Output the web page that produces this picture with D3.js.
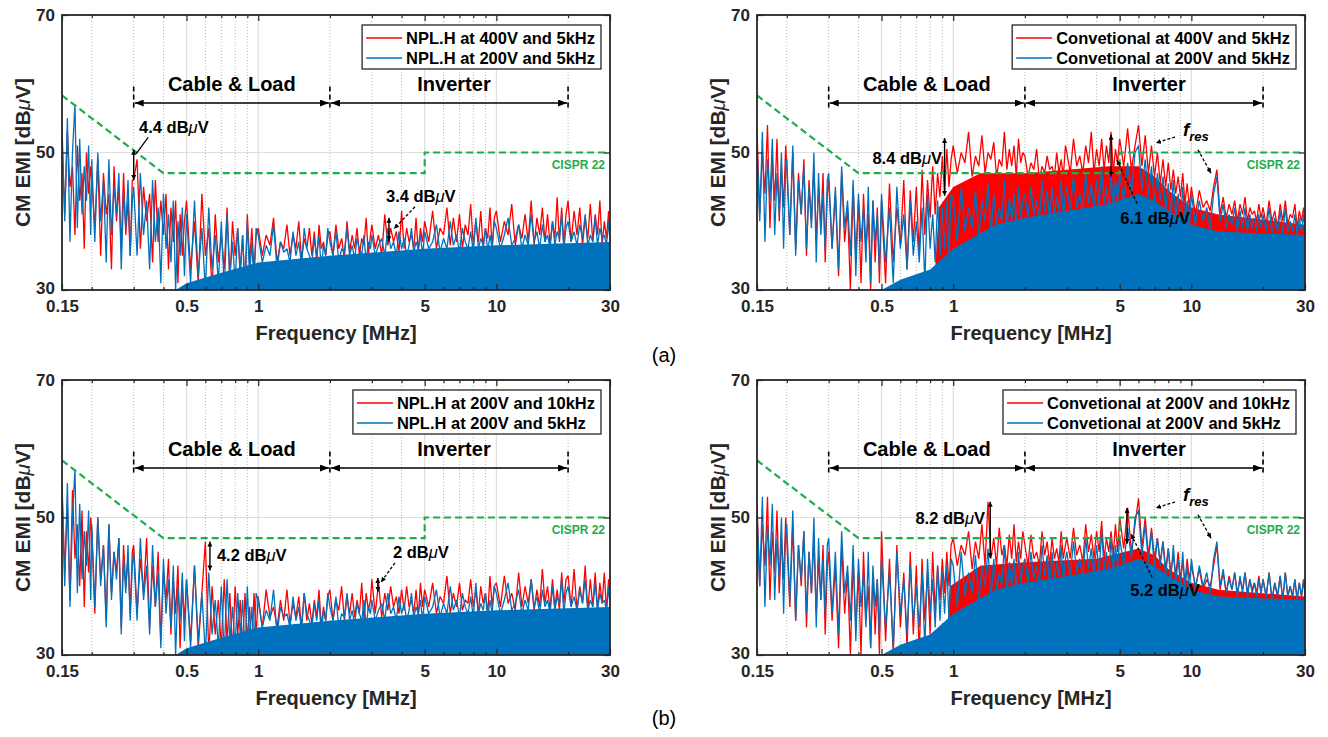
<!DOCTYPE html>
<html>
<head>
<meta charset="utf-8">
<script src="https://cdn.jsdelivr.net/npm/d3@7"></script>
<style>
  body { margin: 0; background: #fff; }
  svg text { font-family: Arial, "Liberation Sans", Helvetica, sans-serif; }
</style>
</head>
<body>
<svg id="fig" width="1328" height="737"></svg>
<script>
// ---------------------------------------------------------------
// Spectrum analyser sweep points (MHz), grouped by sweep segment
// ---------------------------------------------------------------
const freqRows = [
  [0.150,0.154,0.158,0.162,0.166,0.170,0.174,0.178,0.182,0.186,0.190,0.194,0.198],
  [0.200,0.206,0.212,0.218,0.224,0.230,0.236,0.242,0.248,0.254,0.260,0.266,0.272,0.278,0.284,0.290,0.296],
  [0.30,0.31,0.32,0.33,0.34,0.35,0.36,0.37,0.38,0.39,0.40,0.41,0.42,0.43,0.44,0.45,0.46,0.47,0.48,0.49],
  [0.50,0.52,0.54,0.56,0.58,0.60,0.62,0.64,0.66,0.68,0.70,0.72,0.74,0.76,0.78,0.80,0.82,0.84,0.86,0.88,0.90,0.92,0.94,0.96,0.98],
  [1.00,1.04,1.08,1.12,1.16,1.20,1.24,1.28,1.32,1.36,1.40,1.44,1.48,1.52,1.56,1.60,1.64,1.68,1.72,1.76,1.80,1.84,1.88,1.92,1.96],
  [2.00,2.06,2.12,2.18,2.24,2.30,2.36,2.42,2.48,2.54,2.60,2.66,2.72,2.78,2.84,2.90,2.96],
  [3.0,3.1,3.2,3.3,3.4,3.5,3.6,3.7,3.8,3.9,4.0,4.1,4.2,4.3,4.4,4.5,4.6,4.7,4.8,4.9],
  [5.0,5.2,5.4,5.6,5.8,6.0,6.2,6.4,6.6,6.8,7.0,7.2,7.4,7.6,7.8,8.0,8.2,8.4,8.6,8.8,9.0,9.2,9.4,9.6,9.8],
  [10.0,10.4,10.8,11.2,11.6,12.0,12.4,12.8,13.2,13.6,14.0,14.4,14.8,15.2,15.6,16.0,16.4,16.8,17.2,17.6,18.0,18.4,18.8,19.2,19.6],
  [20.0,20.6,21.2,21.8,22.4,23.0,23.6,24.2,24.8,25.4,26.0,26.6,27.2,27.8,28.4,29.0,29.6,30.0]
];

// ---------------------------------------------------------------
// CM EMI spectra (dBuV), one row per sweep segment
// ---------------------------------------------------------------
const nplh400v5k = [
  [52,41,53,45,48,38,51,43,47,36,50,44,48],
  [46,39,49,35,47,41,44,33,48,40,45,36,47,38,43,35,46],
  [46,49,36,45,40,44,34,46,37,43,38,44,33,42,37,43,31,41,35,40],
  [43,33,40,31,44,35,39,30,41,34,38,33,42,31,40,35,39,32,38,30,41,34,39,33,38],
  [39,35,38,36.5,40.5,34,37,36,39.5,35,38,36,40,34.5,37.5,36,39,35,38.5,34,39.5,36,37,35,38],
  [38.5,35,39.5,36,37.5,34.5,40,35.5,38,36,39,35,37.5,36.5,40.5,35,38],
  [39.5,36,38,35,41,36.5,39,37,38.5,35.5,41.5,36,39,37,38,36,40.5,35.5,39,37],
  [40,37,41.5,36,39,38,42,36.5,40.5,37,41,36,39.5,38,42.5,36.5,40,37,41.5,36,39,37.5,42,36,40.5],
  [41.5,37,40,38,42.5,36.5,39.5,37.5,41,37,43,36.5,40.5,38,42,37,41,36.5,40,37.5,43.5,37,42,36.5,41],
  [43,37,41.5,38,42,36.5,40.5,37.5,42.5,37,41,38,43,36.5,40,37.5,41.5,38]
];
const nplh200v5k = [
  [54,40,55,37,50,57,39,52,41,48,43,51,38],
  [49,37,50,40,46,34,49,38,45,41,47,33,44,39,46,35,43],
  [45,35,47,38,43,33,46,37,42,31,44,36,41,34,43,30,40,35,42,32],
  [41,31,43,32,39,30,42,33,38,31,40,30,41,32,37,31,39,33,38,30,40,32,37,31,39],
  [38,34,36.5,35,39.5,33,37,35.5,36,34,38.5,35,37,33.5,39,36,35,34,37.5,35,38,33,36.5,35,39],
  [37,35,38.5,34,36,35.5,39,35,36.5,34.5,37.5,36,35,38,34,37,36],
  [38,35,36.5,37.5,35,39,36,37,35,38.5,36,37.5,35,36.5,39,35.5,37,36,38,35],
  [38.5,36,37,39.5,35.5,37.5,36,40,36.5,38,35.5,39,37,36,38.5,35.5,40.5,36,37.5,36.5,39,35.5,38,36,40],
  [39,36,38,40.5,36.5,37.5,39.5,36,38,36.5,41,37,38.5,36,39.5,37,38,36,40,36.5,38.5,37.5,41,36,39],
  [40,37,38.5,36.5,39.5,37.5,41,36.5,38,37,40.5,36.5,39,37.5,38,36.5,40,37]
];
const nplh200v10k = [
  [55,42,52,38,54,44,49,40,51,37,48,42,50],
  [48,36,50,41,46,35,49,39,45,42,47,34,46,40,44,36,45],
  [46,36,44,39,47,34,43,37,45,32,42,38,44,33,41,36,43,31,40,35],
  [41,32,43,31,39,46.5,30,40,33,38,31,41,32,39,30,40,33,38,31,39,32,37,30,39,33],
  [38.5,34,39.5,35.5,37,34,38,35,39.5,34.5,37.5,35.5,38.5,34,39,35,37.5,34.5,38,35.5,39.5,34,37,35,38.5],
  [39.5,35,38,36.5,40,35,38.5,36,39,35.5,38,36,40.5,35,39,36.5,38],
  [41,36,40.5,35.5,39,36.5,40,37,38.5,36,39.5,36.5,40,37,38,36,39.5,35.5,40.5,37],
  [39.5,37,40.5,36,38.5,37.5,41.5,36,39,37,40.5,36.5,38,37.5,41,37,39.5,36,40,37.5,39,36,41.5,37,40],
  [40.5,37,41.5,37.5,39,36.5,42,37,40,37.5,41,36.5,39.5,37,42.5,37.5,40,36.5,41,37,39.5,36.5,42,37.5,41],
  [41.5,37,42.5,36.5,40,37.5,43,36.5,41,37,42,36.5,40.5,37.5,42,36.5,41,38]
];
const conv400v5k = [
  [53,41,50,44,54,39,49,43,52,40,48,42,51],
  [48,38,50,36,47,41,49,35,46,40,48,37,45,39,47,34,44],
  [46,36,44,32,47,37,42,30,45,35,43,31,44,36,41,30,43,34,42,31],
  [43,31,45.5,34,42,36.5,46,33,44.5,37,45,35,47.5,38,46,40.5,48,41,47,43.5,49.5,44,50.5,45,49],
  [51,47,50,48.5,53,46.5,49.5,48,52.5,47,50,49,51.5,46.5,49,48,53,47.5,50.5,48,51,46.5,52,48.5,50],
  [49.5,46.5,48.5,47.5,50.5,46,48,47,49.5,47.5,48,46.5,50,47,49,46.5,51],
  [50,47,52,48,49.5,47,51,48.5,53,47,50.5,48,52,47.5,51,48.5,53,47,50.5,48.5],
  [52,48,53.5,47.5,51,54,48,52.5,47,51,46.5,50,45.5,49,45,48.5,44.5,47.5,44,46.5,43.5,47,42.5,45.5,42],
  [45,41,44.5,42,43,41.5,45,47.5,41,43.5,40.5,42.5,41,43,40,42.5,41,43.5,40,42,41,41.5,40,42.5,40.5],
  [42,39.5,43,40,41.5,39,42.5,40,43,39.5,41,40.5,42.5,39,41.5,40,42,40]
];
const conv200v5k = [
  [51,40,53,37,49,43,52,38,47,41,50,36,48],
  [49,38,51,35,46,41,48,36,45,39,50,34,47,38,44,36,46],
  [47,36,45,33,48,39,43,35,46,32,44,37,42,34,45,31,43,37,41,33],
  [44,34,42,31,45,36,41,33,43,35,40,34,42,31,44,36,41,34,43,35,42,36,43,35,44],
  [43,37,45,38.5,42,39,44.5,37.5,43,40,45.5,38,44,39.5,42,40,46,38.5,43.5,40,44,39,45,40.5,43],
  [44,40.5,45,41,43,40,46,41.5,44.5,40,45,41,43.5,41.5,46,40.5,44],
  [45,41.5,46.5,42,44,41,47,42.5,45.5,41.5,46,42,48,42.5,45,41.5,47,42,46,43],
  [47,43,48.5,44,50,51,44.5,49,43.5,48,42.5,47,43,46.5,41.5,45.5,41,46,40.5,44,40,45,39.5,43,39],
  [44,39.5,43,40,42,39,44,46.5,40,42.5,39,41,39.5,42,38.5,41.5,39,42,38.5,41,39,40.5,38.5,41,39],
  [41,38.5,42,38,40.5,38.5,41.5,38,42,38.5,40,38.5,41,38,40.5,38.5,41,38.5]
];
const conv200v10k = [
  [52,40,49,43,53,38,48,42,51,39,47,41,50],
  [47,37,49,35,46,40,48,34,45,39,47,36,44,38,46,33,43],
  [45,35,43,31,46,36,42,30,44,34,42,30,45,35,40,31,42,33,41,30],
  [48,32,44,30,46,34,42,31,45,33,43,30,44,35,42,33,45,36,43,38,44,39,45,40,46],
  [47,43,46,44.5,48,42.5,46.5,44,49,43,52.3,44,47,43,48.5,44.5,46,43,47.5,44,49,43.5,46.5,44,48],
  [46,43,47.5,44,45,43,48,44.5,46.5,43,47,44,45.5,43.5,48,44,46],
  [47,44,48.5,44.5,46,43.5,49,45,47.5,44,48,45,49.5,44,47,45,48,44.5,49,45],
  [50,45.5,51.4,45,49,52.8,45.5,50,44.5,48.5,44,47,43.5,46.5,42.5,45.5,42,44.5,41.5,45,41,43.5,40.5,44,41],
  [43,40,42.5,39.5,41,40,43,46,39.5,42,39,41.5,39.5,42,39,41,39.5,42,39,41,39.5,40.5,39,41.5,39],
  [41,38.5,42,38,40.5,38.5,41.5,38,42,38.5,40,38.5,41,38,40.5,38.5,41,39]
];

// Level below which the dense sweep shows as a solid band [MHz, dBuV]
const floorNplh200v5k = [[0.15,30],[0.45,30],[0.5,31],[0.7,32.5],[1,34],[2,35],[5,36],[10,36.5],[30,37]];
const floorConv200v5k = [[0.15,30],[0.5,30],[0.6,31.5],[0.8,33],[1,36],[1.5,39.5],[2,40.5],[3,41.5],[4.5,42.5],[6,44],[7,43],[8,41.5],[10,39.5],[13,38.5],[30,38]];
const floorConv400v5k = [[0.15,30],[0.83,30],[0.87,42],[1,45],[1.3,47],[2,47],[3,47.5],[4.5,48],[6,48],[7,46.5],[8,44.5],[10,42],[13,41],[30,39.5]];
const floorConv200v10k = [[0.15,30],[0.93,30],[0.97,40],[1.3,43],[2,43.5],[4,44],[6,45.5],[7,44.5],[8,42.5],[10,40.5],[13,39.5],[30,38.5]];

// CISPR 22 limit line [MHz, dBuV]
const cispr22 = [[0.15,58.3],[0.4,47],[5,47],[5,50],[30,50]];

// Axis ticks
const xTickLabels = [0.15,0.5,1,5,10,30];
const xMinorTicks = [0.2,0.3,0.4,0.6,0.7,0.8,0.9,2,3,4,6,7,8,9,20];
const xGridMajor = [0.5,1,5,10];
const yTicks = [30,50,70];

// Frequency bands marked above the spectra (MHz)
const bandEdges = [0.3, 2, 20];
const bandNames = ["Cable & Load", "Inverter"];

// Legend entries
const legendAL = ["NPL.H at 400V and 5kHz", "NPL.H at 200V and 5kHz"];
const legendAR = ["Convetional at 400V and 5kHz", "Convetional at 200V and 5kHz"];
const legendBL = ["NPL.H at 200V and 10kHz", "NPL.H at 200V and 5kHz"];
const legendBR = ["Convetional at 200V and 10kHz", "Convetional at 200V and 5kHz"];

// Margin annotations: f (MHz), upper level, span (dB), label position
const notesAL = [
  {f:0.30, top:50.4, delta:4.4, label:"4.4 dBμV", lf:0.316, ldb:53.7, anchor:"start",
   leader:{a:[0.345,52.2], b:[0.307,49.8], dashed:false, head:false}},
  {f:3.54, top:40.5, delta:3.4, label:"3.4 dBμV", lf:3.44, ldb:43.7, anchor:"start",
   leader:{a:[4.55,42.1], b:[3.72,38.9], dashed:true, head:true}}
];
const notesAR = [
  {f:0.92, top:52.1, delta:8.4, label:"8.4 dBμV", lf:0.897, ldb:49.2, anchor:"end", leader:null},
  {f:4.6, top:52.6, delta:6.1, label:"6.1 dBμV", lf:7.04, ldb:40.5, anchor:"middle",
   leader:{a:[5.91,42.6], b:[4.87,48.9], dashed:true, head:true}}
];
const notesBL = [
  {f:0.627, top:46.5, delta:4.2, label:"4.2 dBμV", lf:0.671, ldb:44.5, anchor:"start", leader:null},
  {f:3.18, top:41.2, delta:2.0, label:"2 dBμV", lf:3.68, ldb:45.0, anchor:"start",
   leader:{a:[3.75,43.4], b:[3.28,40.6], dashed:true, head:true}}
];
const notesBR = [
  {f:1.43, top:52.3, delta:8.2, label:"8.2 dBμV", lf:1.36, ldb:49.9, anchor:"end", leader:null},
  {f:5.37, top:51.4, delta:5.2, label:"5.2 dBμV", lf:7.75, ldb:39.4, anchor:"middle",
   leader:{a:[6.84,41.3], b:[5.58,47.6], dashed:true, head:true}}
];
// Resonance pointer: label position and the two pointed peaks
const fresNote = {lf:9.22, ldb:53.3, arrows:[[[8.54,52.25],[7.10,51.4]], [[10.66,50.4],[12.09,47.0]]]};

const RED = "#ff0000", BLUE = "#0072bd", GREEN = "#1fad4b", AXIS = "#262626";

const panels = [
  {x0:62,  y0:15,  red:nplh400v5k,  blue:nplh200v5k, redFloor:null,             blueFloor:floorNplh200v5k, legend:legendAL, notes:notesAL, fres:false},
  {x0:757, y0:15,  red:conv400v5k,  blue:conv200v5k, redFloor:floorConv400v5k,  blueFloor:floorConv200v5k, legend:legendAR, notes:notesAR, fres:true},
  {x0:62,  y0:380, red:nplh200v10k, blue:nplh200v5k, redFloor:null,             blueFloor:floorNplh200v5k, legend:legendBL, notes:notesBL, fres:false},
  {x0:757, y0:380, red:conv200v10k, blue:conv200v5k, redFloor:floorConv200v10k, blueFloor:floorConv200v5k, legend:legendBR, notes:notesBR, fres:true}
];
const PW = 548, PH = 275;

const svg = d3.select("#fig");
const defs = svg.append("defs");

function addMarker(id, len, wid) {
  defs.append("marker")
    .attr("id", id).attr("viewBox", `0 0 ${len} ${wid}`)
    .attr("refX", len).attr("refY", wid / 2)
    .attr("markerWidth", len).attr("markerHeight", wid)
    .attr("markerUnits", "userSpaceOnUse")
    .attr("orient", "auto-start-reverse")
    .append("path").attr("d", `M0,0L${len},${wid / 2}L0,${wid}Z`).attr("fill", "#000");
}
addMarker("headBig", 9, 7);
addMarker("headSmall", 5, 5);

function muText(sel, str) {
  const parts = str.split("μ");
  sel.append("tspan").text(parts[0]);
  if (parts.length > 1) {
    sel.append("tspan").attr("font-style", "italic").attr("font-weight", "normal").text("μ");
    sel.append("tspan").text(parts[1]);
  }
}

function toPoints(rows) {
  const pts = [];
  rows.forEach((row, r) => {
    const fr = freqRows[r];
    const n = Math.min(row.length, fr.length);
    for (let k = 0; k < n; k++) pts.push([fr[k], row[k]]);
  });
  return pts;
}

const fmtTick = d => (d < 1 ? String(d) : d3.format("d")(d));

panels.forEach((p, i) => {
  const x = d3.scaleLog().domain([0.15, 30]).range([p.x0, p.x0 + PW]);
  const y = d3.scaleLinear().domain([30, 70]).range([p.y0 + PH, p.y0]);
  const g = svg.append("g");

  const clipId = "clip" + i;
  defs.append("clipPath").attr("id", clipId)
    .append("rect").attr("x", p.x0).attr("y", p.y0).attr("width", PW).attr("height", PH);

  // grid
  const grid = g.append("g");
  grid.selectAll(".minor").data(xMinorTicks).join("line")
    .attr("x1", d => x(d)).attr("x2", d => x(d))
    .attr("y1", p.y0).attr("y2", p.y0 + PH)
    .attr("stroke", "#b8b8b8").attr("stroke-width", 1).attr("stroke-dasharray", "1,2");
  grid.selectAll(".major").data(xGridMajor).join("line")
    .attr("x1", d => x(d)).attr("x2", d => x(d))
    .attr("y1", p.y0).attr("y2", p.y0 + PH)
    .attr("stroke", "#dedede").attr("stroke-width", 1.2);
  grid.selectAll(".hmajor").data([50]).join("line")
    .attr("x1", p.x0).attr("x2", p.x0 + PW)
    .attr("y1", d => y(d)).attr("y2", d => y(d))
    .attr("stroke", "#dedede").attr("stroke-width", 1.2);

  // spectra
  const data = g.append("g").attr("clip-path", `url(#${clipId})`);
  const area = d3.area().x(d => x(d[0])).y0(y(30)).y1(d => y(d[1]));
  const line = d3.line().x(d => x(d[0])).y(d => y(d[1]));
  [[p.red, p.redFloor, RED], [p.blue, p.blueFloor, BLUE]].forEach(([rows, floor, col]) => {
    if (floor) data.append("path").datum(floor).attr("d", area).attr("fill", col);
    data.append("path").datum(toPoints(rows)).attr("d", line)
      .attr("fill", "none").attr("stroke", col).attr("stroke-width", 1.3)
      .attr("stroke-linejoin", "bevel");
  });

  // CISPR 22 limit
  data.append("path").datum(cispr22).attr("d", line)
    .attr("fill", "none").attr("stroke", GREEN).attr("stroke-width", 2.2)
    .attr("stroke-dasharray", "7,4");
  g.append("text").attr("x", p.x0 + PW - 5).attr("y", y(48.2)).attr("dy", "0.35em")
    .attr("text-anchor", "end").attr("font-size", 12).attr("font-weight", "bold")
    .attr("fill", GREEN).text("CISPR 22");

  // axes: tick marks inside on all four sides
  const styleAxis = sel => {
    sel.select(".domain").remove();
    sel.selectAll(".tick line").attr("stroke", AXIS).attr("stroke-width", 1.2);
    sel.selectAll("text").attr("font-size", 17).attr("font-weight", "bold").attr("fill", AXIS)
      .attr("font-family", "Arial, 'Liberation Sans', sans-serif");
  };
  g.append("g").attr("transform", `translate(0,${p.y0 + PH})`)
    .call(d3.axisBottom(x).tickValues(xTickLabels).tickFormat(fmtTick).tickSize(-6).tickPadding(10))
    .call(styleAxis);
  g.append("g").attr("transform", `translate(0,${p.y0 + PH})`)
    .call(d3.axisBottom(x).tickValues(xMinorTicks).tickFormat("").tickSize(-3)).call(styleAxis);
  g.append("g").attr("transform", `translate(0,${p.y0})`)
    .call(d3.axisTop(x).tickValues(xTickLabels).tickFormat("").tickSize(-6)).call(styleAxis);
  g.append("g").attr("transform", `translate(0,${p.y0})`)
    .call(d3.axisTop(x).tickValues(xMinorTicks).tickFormat("").tickSize(-3)).call(styleAxis);
  const yAx = g.append("g").attr("transform", `translate(${p.x0},0)`)
    .call(d3.axisLeft(y).tickValues(yTicks).tickSize(-6).tickPadding(7)).call(styleAxis);
  yAx.selectAll(".tick text").filter(d => d === 30).attr("dy", "0.2em");
  g.append("g").attr("transform", `translate(${p.x0 + PW},0)`)
    .call(d3.axisRight(y).tickValues(yTicks).tickFormat("").tickSize(-6)).call(styleAxis);

  g.append("rect").attr("x", p.x0).attr("y", p.y0).attr("width", PW).attr("height", PH)
    .attr("fill", "none").attr("stroke", AXIS).attr("stroke-width", 1.8);

  // axis titles
  g.append("text").attr("x", p.x0 + PW / 2).attr("y", p.y0 + PH + 43).attr("dy", "0.35em")
    .attr("text-anchor", "middle").attr("font-size", 20).attr("font-weight", "bold").attr("fill", AXIS)
    .text("Frequency [MHz]");
  const yl = g.append("text")
    .attr("transform", `translate(${p.x0 - 39},${p.y0 + PH / 2}) rotate(-90)`)
    .attr("dy", "0.35em").attr("text-anchor", "middle")
    .attr("font-size", 21).attr("font-weight", "bold").attr("fill", AXIS);
  muText(yl, "CM EMI [dBμV]");

  // frequency band arrows
  const ya = y(57.2);
  g.selectAll(".edge").data(bandEdges).join("line")
    .attr("x1", d => x(d)).attr("x2", d => x(d))
    .attr("y1", y(59.6)).attr("y2", y(56.1))
    .attr("stroke", "#000").attr("stroke-width", 1.6).attr("stroke-dasharray", "5,3");
  bandNames.forEach((name, k) => {
    const xa = x(bandEdges[k]), xb = x(bandEdges[k + 1]);
    g.append("line").attr("x1", xa + 1).attr("x2", xb - 1).attr("y1", ya).attr("y2", ya)
      .attr("stroke", "#000").attr("stroke-width", 1.6)
      .attr("marker-start", "url(#headBig)").attr("marker-end", "url(#headBig)");
    g.append("text").attr("x", (xa + xb) / 2 + (k === 1 ? 5 : 0)).attr("y", y(60.0))
      .attr("dy", "0.35em").attr("text-anchor", "middle")
      .attr("font-size", 20).attr("font-weight", "bold").attr("fill", "#000").text(name);
  });

  // margin annotations
  p.notes.forEach(n => {
    g.append("line").attr("x1", x(n.f)).attr("x2", x(n.f))
      .attr("y1", y(n.top)).attr("y2", y(n.top - n.delta))
      .attr("stroke", "#000").attr("stroke-width", 1.4)
      .attr("marker-start", "url(#headSmall)").attr("marker-end", "url(#headSmall)");
    const t = g.append("text").attr("x", x(n.lf)).attr("y", y(n.ldb)).attr("dy", "0.35em")
      .attr("text-anchor", n.anchor).attr("font-size", 16.5).attr("font-weight", "bold").attr("fill", "#000");
    muText(t, n.label);
    if (n.leader) {
      const l = g.append("line")
        .attr("x1", x(n.leader.a[0])).attr("y1", y(n.leader.a[1]))
        .attr("x2", x(n.leader.b[0])).attr("y2", y(n.leader.b[1]))
        .attr("stroke", "#000").attr("stroke-width", 1.3);
      if (n.leader.dashed) l.attr("stroke-dasharray", "3,2");
      if (n.leader.head) l.attr("marker-end", "url(#headSmall)");
    }
  });

  if (p.fres) {
    const t = g.append("text").attr("x", x(fresNote.lf)).attr("y", y(fresNote.ldb) + 6)
      .attr("font-weight", "bold").attr("font-style", "italic").attr("fill", "#000");
    t.append("tspan").attr("font-size", 19).text("f");
    t.append("tspan").attr("font-size", 13).attr("dy", 5).text("res");
    fresNote.arrows.forEach(([a, b]) => {
      g.append("line").attr("x1", x(a[0])).attr("y1", y(a[1])).attr("x2", x(b[0])).attr("y2", y(b[1]))
        .attr("stroke", "#000").attr("stroke-width", 1.3).attr("stroke-dasharray", "3,2")
        .attr("marker-end", "url(#headSmall)");
    });
  }

  // legend, anchored to the upper right corner
  const lg = g.append("g");
  const box = lg.append("rect").attr("fill", "#fff").attr("stroke", AXIS).attr("stroke-width", 1.3);
  let maxW = 0;
  p.legend.forEach((label, k) => {
    const t = lg.append("text").attr("x", 44).attr("y", 13 + k * 20).attr("dy", "0.35em")
      .attr("font-size", 16.5).attr("font-weight", "bold").attr("fill", "#000").text(label);
    maxW = Math.max(maxW, t.node().getComputedTextLength());
    lg.append("line").attr("x1", 4).attr("x2", 40).attr("y1", 13 + k * 20).attr("y2", 13 + k * 20)
      .attr("stroke", k === 0 ? RED : BLUE).attr("stroke-width", 1.3);
  });
  const bw = 44 + maxW + 6, bh = 44;
  box.attr("x", 0).attr("y", 0).attr("width", bw).attr("height", bh);
  lg.attr("transform", `translate(${p.x0 + PW - 9 - bw},${p.y0 + 10})`);
});

// sub-figure captions
[["(a)", 355], ["(b)", 718]].forEach(([s, yy]) => {
  svg.append("text").attr("x", 664).attr("y", yy).attr("dy", "0.35em").attr("text-anchor", "middle")
    .attr("font-family", "'Times New Roman', 'Liberation Serif', serif").attr("font-size", 20)
    .attr("fill", "#000").text(s);
});
</script>
</body>
</html>
